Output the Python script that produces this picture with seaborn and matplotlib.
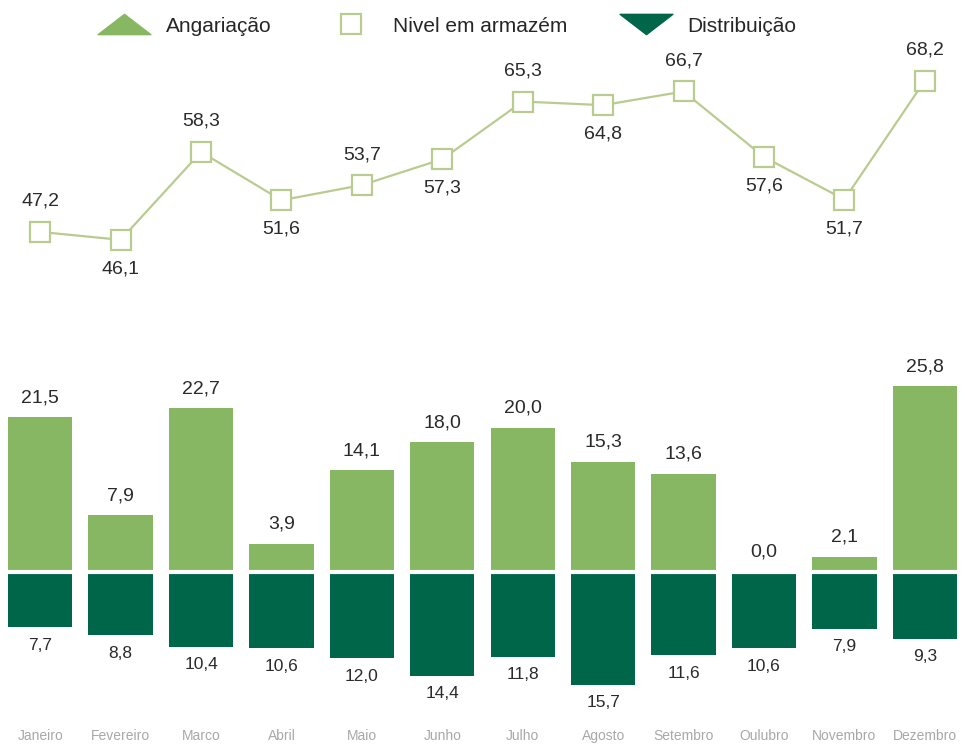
import matplotlib
matplotlib.use("Agg")
import matplotlib.pyplot as plt
import seaborn as sns
import pandas as pd
import numpy as np
from matplotlib.lines import Line2D
from matplotlib.path import Path

meses = ["Janeiro", "Fevereiro", "Marco", "Abril", "Maio", "Junho", "Julho",
         "Agosto", "Setembro", "Oulubro", "Novembro", "Dezembro"]
angariacao = [21.5, 7.9, 22.7, 3.9, 14.1, 18.0, 20.0, 15.3, 13.6, 0.0, 2.1, 25.8]
distribuicao = [7.7, 8.8, 10.4, 10.6, 12.0, 14.4, 11.8, 15.7, 11.6, 10.6, 7.9, 9.3]
nivel = [47.2, 46.1, 58.3, 51.6, 53.7, 57.3, 65.3, 64.8, 66.7, 57.6, 51.7, 68.2]
nivel_pos = ["above", "below", "above", "below", "above", "below",
             "above", "below", "above", "below", "below", "above"]

c_up = "#88b764"
c_down = "#00664a"
c_line = "#b9cc90"
c_text = "#2a2a2a"

sns.set_theme(style="white")
plt.rcParams["font.family"] = ["Liberation Sans", "DejaVu Sans"]

fig = plt.figure(figsize=(9.65, 7.44), dpi=100)
ax = fig.add_axes([0, 0, 1, 1])

df = pd.DataFrame({"mes": meses, "ang": angariacao,
                   "dist": [-d for d in distribuicao], "nivel": nivel,
                   "x": np.arange(len(meses))})

sns.barplot(data=df, x="mes", y="ang", order=meses, color=c_up, width=0.8,
            saturation=1, ax=ax, linewidth=0)
sns.barplot(data=df, x="mes", y="dist", order=meses, color=c_down, width=0.8,
            saturation=1, ax=ax, linewidth=0)
ax.axhline(0, color="white", linewidth=3, zorder=5)
sns.lineplot(data=df, x="x", y="nivel", color=c_line, linewidth=1.6, ax=ax,
             marker="s", markersize=14, markerfacecolor="white",
             markeredgecolor=c_line, markeredgewidth=1.6)

fs = 14
for i in range(len(meses)):
    ax.annotate(f"{angariacao[i]:.1f}".replace(".", ","), (i, angariacao[i]),
                xytext=(0, 14), textcoords="offset points", ha="center",
                va="center", fontsize=fs, color=c_text)
    ax.annotate(f"{distribuicao[i]:.1f}".replace(".", ","), (i, -distribuicao[i]),
                xytext=(0, -13), textcoords="offset points", ha="center",
                va="center", fontsize=fs - 1.5, color=c_text)
    off = 22 if nivel_pos[i] == "above" else -21
    ax.annotate(f"{nivel[i]:.1f}".replace(".", ","), (i, nivel[i]),
                xytext=(0, off), textcoords="offset points", ha="center",
                va="center", fontsize=fs, color=c_text)
    ax.text(i, -22.8, meses[i], ha="center", va="center", fontsize=10,
            color="#a8a8a8")

ax.set_xlim(-0.5, 11.5)
ax.set_ylim(-23.9, 79.4)
ax.set_xticks([])
ax.set_yticks([])
ax.set_xlabel("")
ax.set_ylabel("")
for s in ax.spines.values():
    s.set_visible(False)

tri_up = Path([(-1.3, -0.5), (1.3, -0.5), (0, 0.5), (-1.3, -0.5)],
              [Path.MOVETO, Path.LINETO, Path.LINETO, Path.CLOSEPOLY])
tri_dn = Path([(-1.3, 0.5), (1.3, 0.5), (0, -0.5), (-1.3, 0.5)],
              [Path.MOVETO, Path.LINETO, Path.LINETO, Path.CLOSEPOLY])
handles = [
    Line2D([], [], linestyle="none", marker=tri_up, markersize=38,
           markerfacecolor=c_up, markeredgecolor=c_up),
    Line2D([], [], linestyle="none", marker="s", markersize=14,
           markerfacecolor="white", markeredgecolor=c_line, markeredgewidth=1.6),
    Line2D([], [], linestyle="none", marker=tri_dn, markersize=38,
           markerfacecolor=c_down, markeredgecolor=c_down),
]
fig.legend(handles, ["Angariação", "Nivel em armazém", "Distribuição"],
           loc="upper center", bbox_to_anchor=(0.46, 1.003), ncol=3,
           frameon=False, fontsize=15, columnspacing=2.2, handletextpad=0.4,
           handlelength=3.2)

fig.savefig("out.png", dpi=100)
